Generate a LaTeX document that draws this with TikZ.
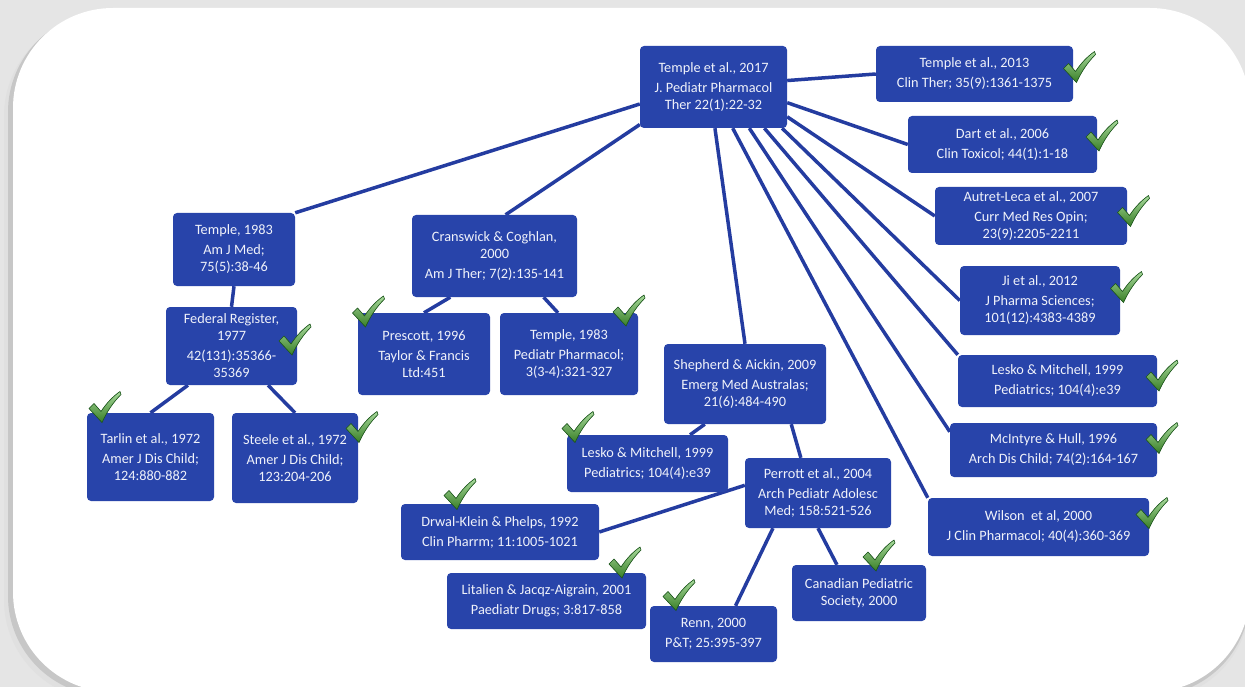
\documentclass[tikz,border=0pt]{standalone}
\usepackage{fontspec}
\setmainfont{Carlito}
\usetikzlibrary{positioning}

\definecolor{refblue}{RGB}{40,68,170}
\definecolor{lineblue}{RGB}{36,60,160}
\definecolor{pagegray}{RGB}{229,229,229}
\definecolor{okgreen}{RGB}{80,180,55}
\definecolor{okdark}{RGB}{30,90,30}
\definecolor{reftext}{RGB}{240,242,250}

\pgfdeclarelayer{background}
\pgfdeclarelayer{edges}
\pgfsetlayers{background,edges,main}

\tikzset{
  ref/.style={fill=refblue, rounded corners=4pt, text=reftext, align=center,
    inner sep=2pt, font=\fontsize{14.3}{17}\selectfont},
  link/.style={draw=lineblue, line width=3.5pt},
  okmark/.pic={
    \filldraw[draw=okdark, line width=0.6pt, top color=okgreen!50!white, bottom color=okgreen!70!black]
      (-16,1) -- (-11,-4) -- (-4,4) .. controls (2,-5) and (8,-11) .. (15,-16)
      -- (16,-13) .. controls (8,-5) and (2,4) .. (-3,15) -- cycle;
  }
}

\begin{document}
\begin{tikzpicture}[x=1pt, y=-1pt]

  \useasboundingbox (0,0) rectangle (1245,687);

  % page and card
  \begin{pgfonlayer}{background}
    \fill[pagegray] (0,0) rectangle (1245,687);
    \fill[black!12, rounded corners=100pt] (4,16) rectangle (1250,700);
    \fill[black!22, rounded corners=100pt] (8,12) rectangle (1250,696);
    \fill[white, rounded corners=100pt] (13,8) rectangle (1250,692);
  \end{pgfonlayer}

  % Root paper
  \node[ref, minimum width=147pt, minimum height=82pt] (root) at (713.5,87)
    {Temple et al., 2017\\[3pt] J. Pediatr Pharmacol\\ Ther 22(1):22-32};

  % Right column
  \node[ref, minimum width=197pt, minimum height=56pt] (t13) at (974.5,74)
    {Temple et al., 2013\\[3pt] Clin Ther; 35(9):1361-1375};
  \node[ref, minimum width=189pt, minimum height=57pt] (dart) at (1002.5,144.5)
    {Dart et al., 2006\\[3pt] Clin Toxicol; 44(1):1-18};
  \node[ref, minimum width=192pt, minimum height=58pt] (autret) at (1031,216)
    {Autret-Leca et al., 2007\\[3pt] Curr Med Res Opin;\\ 23(9):2205-2211};
  \node[ref, minimum width=160pt, minimum height=69pt] (ji) at (1040,300.5)
    {Ji et al., 2012\\[3pt] J Pharma Sciences;\\ 101(12):4383-4389};
  \node[ref, minimum width=199pt, minimum height=52pt] (leskoR) at (1057.5,381)
    {Lesko \& Mitchell, 1999\\[3pt] Pediatrics; 104(4):e39};
  \node[ref, minimum width=207pt, minimum height=54pt] (mcint) at (1053.5,450)
    {McIntyre \& Hull, 1996\\[3pt] Arch Dis Child; 74(2):164-167};
  \node[ref, minimum width=221pt, minimum height=58pt] (wilson) at (1038.5,527)
    {Wilson\ \ et al, 2000\\[3pt] J Clin Pharmacol; 40(4):360-369};

  % Left branch
  \node[ref, minimum width=122pt, minimum height=73pt] (templeA) at (234,249.5)
    {Temple, 1983\\[3pt] Am J Med;\\ 75(5):38-46};
  \node[ref, minimum width=131pt, minimum height=78pt] (fedreg) at (231.5,346)
    {Federal Register,\\ 1977\\[3pt] 42(131):35366-\\ 35369};
  \node[ref, minimum width=127pt, minimum height=88pt] (tarlin) at (150.5,457)
    {Tarlin et al., 1972\\[3pt] Amer J Dis Child;\\ 124:880-882};
  \node[ref, minimum width=126pt, minimum height=90pt] (steele) at (295,458)
    {Steele et al., 1972\\[3pt] Amer J Dis Child;\\ 123:204-206};

  % Middle branch
  \node[ref, minimum width=165pt, minimum height=82pt] (cransw) at (494.5,256)
    {Cranswick \& Coghlan,\\ 2000\\[3pt] Am J Ther; 7(2):135-141};
  \node[ref, minimum width=132pt, minimum height=82pt] (prescott) at (424,354)
    {Prescott, 1996\\[3pt] Taylor \& Francis\\ Ltd:451};
  \node[ref, minimum width=138pt, minimum height=82pt] (templeB) at (569,354)
    {Temple, 1983\\[3pt] Pediatr Pharmacol;\\ 3(3-4):321-327};

  % Shepherd branch
  \node[ref, minimum width=162pt, minimum height=80pt] (shep) at (745,384)
    {Shepherd \& Aickin, 2009\\[3pt] Emerg Med Australas;\\ 21(6):484-490};
  \node[ref, minimum width=161pt, minimum height=57pt] (leskoL) at (647.5,463.5)
    {Lesko \& Mitchell, 1999\\[3pt] Pediatrics; 104(4):e39};
  \node[ref, minimum width=146pt, minimum height=70pt] (perrott) at (818,493)
    {Perrott et al., 2004\\[3pt] Arch Pediatr Adolesc\\ Med; 158:521-526};
  \node[ref, minimum width=198pt, minimum height=56pt] (drwal) at (500,532)
    {Drwal-Klein \& Phelps, 1992\\[3pt] Clin Pharrm; 11:1005-1021};
  \node[ref, minimum width=199pt, minimum height=56pt] (litalien) at (546.5,601)
    {Litalien \& Jacqz-Aigrain, 2001\\[3pt] Paediatr Drugs; 3:817-858};
  \node[ref, minimum width=127pt, minimum height=56pt] (renn) at (713.5,634)
    {Renn, 2000\\[3pt] P\&T; 25:395-397};
  \node[ref, minimum width=134pt, minimum height=56pt] (canad) at (859,593)
    {Canadian Pediatric\\ Society, 2000};

  % Citation links
  \begin{pgfonlayer}{edges}
    \draw[link] (root.-167.7) -- (templeA.north east);
    \draw[link] (root.-153.3) -- (cransw.75);
    \draw[link] (root.-88) -- (shep.north);
    \draw[link] (root.-65.7) -- (wilson.north west);
    \draw[link] (root.-49.9) -- (mcint.170);
    \draw[link] (root.-39.1) -- (leskoR.north west);
    \draw[link] (root.-31.7) -- (ji.west);
    \draw[link] (root.-22.2) -- (autret.west);
    \draw[link] (root.-12.3) -- (dart.west);
    \draw[link] (root.5.4) -- (t13.west);

    \draw[link] (templeA.south) -- (fedreg.north);
    \draw[link] (fedreg.-138.8) -- (tarlin.north);
    \draw[link] (fedreg.-47.7) -- (steele.north);

    \draw[link] (cransw.-137.3) -- (prescott.north);
    \draw[link] (cransw.-40.2) -- (templeB.105);

    \draw[link] (shep.-135) -- (leskoL.34.5);
    \draw[link] (shep.-41) -- (perrott.116);
    \draw[link] (perrott.174) -- (drwal.east);
    \draw[link] (perrott.-142.1) -- (renn.52.5);
    \draw[link] (perrott.south) -- (canad.128);
  \end{pgfonlayer}

  % Check marks
  \pic at (1079.5,67.5) {okmark};
  \pic at (1102,136) {okmark};
  \pic at (1133.5,211.5) {okmark};
  \pic at (1126.5,287.5) {okmark};
  \pic at (1162,376) {okmark};
  \pic at (1162,438.5) {okmark};
  \pic at (1152,513.5) {okmark};
  \pic at (295,340) {okmark};
  \pic at (368.5,312) {okmark};
  \pic at (629,311) {okmark};
  \pic at (105,407.5) {okmark};
  \pic at (362,427.5) {okmark};
  \pic at (578,427.5) {okmark};
  \pic at (460,494.5) {okmark};
  \pic at (625,563) {okmark};
  \pic at (679,595.5) {okmark};
  \pic at (879,556) {okmark};

\end{tikzpicture}
\end{document}
